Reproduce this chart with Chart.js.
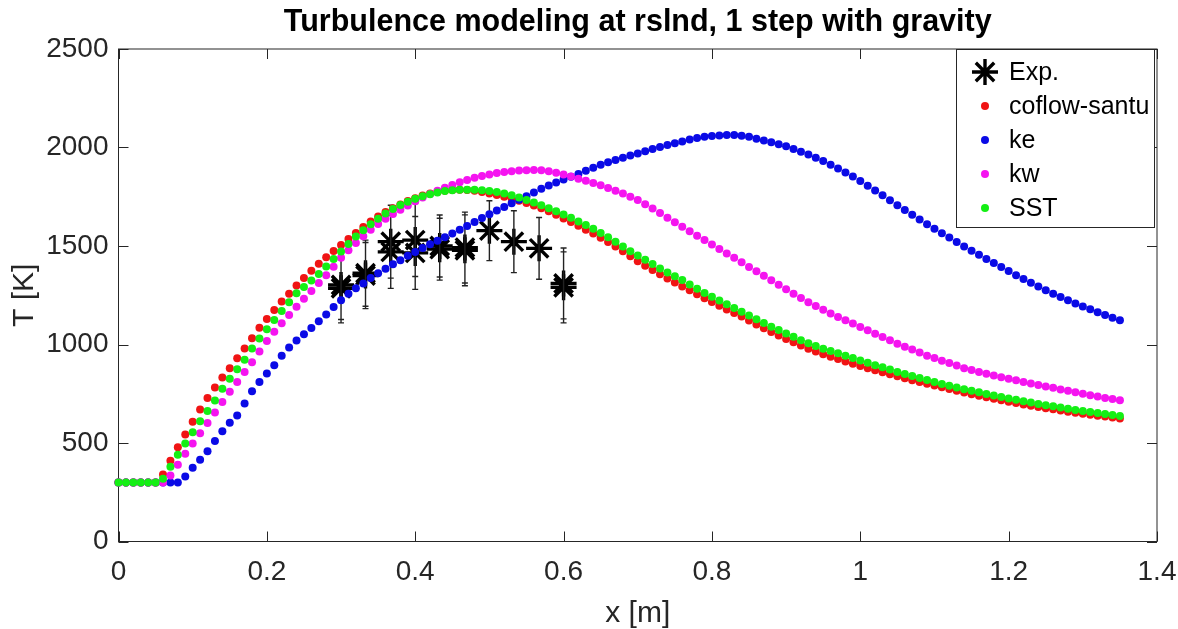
<!DOCTYPE html>
<html>
<head>
<meta charset="utf-8">
<script src="https://cdn.jsdelivr.net/npm/chart.js@4.4.0/dist/chart.umd.min.js"></script>
<style>
  html, body { margin: 0; padding: 0; background: #fff; }
  canvas { display: block; }
</style>
</head>
<body>
<canvas id="chart" width="1178" height="629"></canvas>
<script>
// x positions along the line [m], 0.00 .. 1.35
const xPos = [
  0.00, 0.01, 0.02, 0.03, 0.04, 0.05, 0.06, 0.07, 0.08, 0.09,
  0.10, 0.11, 0.12, 0.13, 0.14, 0.15, 0.16, 0.17, 0.18, 0.19,
  0.20, 0.21, 0.22, 0.23, 0.24, 0.25, 0.26, 0.27, 0.28, 0.29,
  0.30, 0.31, 0.32, 0.33, 0.34, 0.35, 0.36, 0.37, 0.38, 0.39,
  0.40, 0.41, 0.42, 0.43, 0.44, 0.45, 0.46, 0.47, 0.48, 0.49,
  0.50, 0.51, 0.52, 0.53, 0.54, 0.55, 0.56, 0.57, 0.58, 0.59,
  0.60, 0.61, 0.62, 0.63, 0.64, 0.65, 0.66, 0.67, 0.68, 0.69,
  0.70, 0.71, 0.72, 0.73, 0.74, 0.75, 0.76, 0.77, 0.78, 0.79,
  0.80, 0.81, 0.82, 0.83, 0.84, 0.85, 0.86, 0.87, 0.88, 0.89,
  0.90, 0.91, 0.92, 0.93, 0.94, 0.95, 0.96, 0.97, 0.98, 0.99,
  1.00, 1.01, 1.02, 1.03, 1.04, 1.05, 1.06, 1.07, 1.08, 1.09,
  1.10, 1.11, 1.12, 1.13, 1.14, 1.15, 1.16, 1.17, 1.18, 1.19,
  1.20, 1.21, 1.22, 1.23, 1.24, 1.25, 1.26, 1.27, 1.28, 1.29,
  1.30, 1.31, 1.32, 1.33, 1.34, 1.35
];

// temperature [K] per model, same x positions
const coflowSantu = [
  300, 300, 300, 300, 300, 300, 340, 410, 478, 543,
  608, 670, 728, 782, 832, 880, 930, 980, 1032, 1085,
  1130, 1175, 1218, 1258, 1300, 1338, 1375, 1410, 1443, 1475,
  1505, 1536, 1566, 1596, 1625, 1650, 1672, 1692, 1711, 1728,
  1743, 1756, 1766, 1774, 1780, 1784, 1785, 1784, 1780, 1774,
  1767, 1759, 1750, 1741, 1730, 1718, 1706, 1692, 1676, 1658,
  1640, 1622, 1603, 1583, 1563, 1542, 1520, 1497, 1473, 1448,
  1422, 1400, 1378, 1356, 1335, 1315, 1295, 1275, 1255, 1235,
  1216, 1197, 1178, 1160, 1142, 1122, 1102, 1083, 1064, 1046,
  1028, 1011, 995, 979, 965, 951, 938, 926, 914, 902,
  891, 880, 869, 859, 849, 839, 829, 819, 810, 801,
  792, 783, 774, 765, 756, 748, 740, 732, 724, 717,
  710, 703, 696, 689, 683, 677, 671, 665, 659, 654,
  648, 643, 638, 634, 629, 625
];
const ke = [
  300, 300, 300, 300, 300, 300, 300, 300, 300, 330,
  375, 415, 458, 510, 560, 603, 640, 700, 763, 810,
  853, 895, 943, 985, 1020, 1052, 1084, 1118, 1152, 1190,
  1225, 1258, 1285, 1310, 1338, 1362, 1385, 1407, 1428, 1450,
  1470, 1490, 1509, 1527, 1545, 1563, 1582, 1602, 1622, 1642,
  1661, 1680, 1698, 1717, 1735, 1753, 1772, 1790, 1807, 1822,
  1837, 1851, 1866, 1882, 1897, 1912, 1925, 1937, 1948, 1959,
  1970, 1981, 1992, 2003, 2013, 2022, 2031, 2040, 2048, 2054,
  2058, 2061, 2063, 2063, 2060, 2054, 2045, 2036, 2027, 2017,
  2006, 1993, 1979, 1964, 1948, 1931, 1913, 1893, 1873, 1853,
  1830, 1806, 1782, 1757, 1732, 1707, 1683, 1658, 1634, 1610,
  1587, 1565, 1543, 1520, 1497, 1476, 1455, 1434, 1414, 1394,
  1373, 1352, 1332, 1313, 1294, 1276, 1258, 1241, 1224, 1208,
  1193, 1179, 1164, 1150, 1136, 1123
];
const kw = [
  300, 300, 300, 300, 300, 300, 300, 335, 390, 445,
  498, 550, 602, 655, 708, 760, 810, 860, 910, 965,
  1018, 1065, 1108, 1150, 1192, 1232, 1272, 1312, 1352, 1395,
  1440, 1478, 1515, 1550, 1583, 1612, 1638, 1662, 1684, 1706,
  1727, 1746, 1764, 1781, 1796, 1810, 1823, 1835, 1846, 1855,
  1863, 1870, 1876, 1880, 1883, 1885, 1886, 1885, 1880, 1872,
  1863, 1853, 1842, 1831, 1820, 1808, 1795, 1781, 1766, 1750,
  1733, 1712, 1690, 1667, 1644, 1621, 1598, 1575, 1552, 1530,
  1507, 1485, 1462, 1440, 1417, 1394, 1372, 1349, 1326, 1303,
  1280, 1258, 1236, 1215, 1195, 1176, 1157, 1140, 1123, 1106,
  1089, 1072, 1055, 1038, 1021, 1004, 989, 974, 960, 943,
  932, 918, 906, 893, 880, 870, 861, 852, 843, 834,
  826, 818, 810, 802, 794, 787, 780, 772, 765, 757,
  750, 743, 736, 729, 723, 717
];
const sst = [
  300, 300, 300, 300, 300, 300, 318, 380, 440, 498,
  555, 610, 663, 716, 775, 826, 875, 922, 980, 1030,
  1078, 1124, 1170, 1215, 1260, 1292, 1325, 1358, 1396, 1434,
  1472, 1510, 1548, 1580, 1610, 1638, 1665, 1688, 1708, 1725,
  1740, 1752, 1763, 1772, 1779, 1783, 1785, 1786, 1785, 1783,
  1779, 1774, 1767, 1757, 1746, 1734, 1721, 1707, 1692, 1676,
  1660, 1643, 1625, 1606, 1587, 1566, 1544, 1521, 1497, 1473,
  1452, 1430, 1408, 1386, 1366, 1347, 1328, 1305, 1283, 1262,
  1242, 1223, 1204, 1185, 1166, 1147, 1128, 1109, 1090, 1073,
  1056, 1039, 1022, 1006, 992, 979, 967, 955, 943, 931,
  919, 907, 895, 884, 873, 860, 850, 840, 830, 820,
  810, 800, 791, 782, 773, 765, 757, 749, 741, 733,
  726, 719, 712, 705, 698, 692, 686, 680, 674, 668,
  662, 657, 652, 647, 642, 637
];

// experiment: position, temperature, error (+/-)
const expX   = [0.3, 0.3, 0.333, 0.333, 0.367, 0.367, 0.4, 0.4, 0.433, 0.433, 0.467, 0.467, 0.5, 0.533, 0.567, 0.6, 0.6];
const expT   = [1285, 1302, 1350, 1362, 1470, 1522, 1465, 1530, 1484, 1500, 1478, 1492, 1578, 1522, 1488, 1290, 1310];
const expErr = [175, 175, 168, 168, 185, 185, 185, 185, 157, 157, 180, 180, 152, 157, 157, 180, 180];

const xTickLabels = ['0', '0.2', '0.4', '0.6', '0.8', '1', '1.2', '1.4'];
const yTickLabels = ['0', '500', '1000', '1500', '2000', '2500'];

const seriesNames = ['Exp.', 'coflow-santu', 'ke', 'kw', 'SST'];
const seriesColors = ['#000000', '#f01414', '#0a0ae6', '#f514f0', '#14ef14'];

const FONT = "'Liberation Sans', Arial, Helvetica, sans-serif";
const AXIS_COLOR = '#262626';

function pts(ys) {
  return xPos.map((x, i) => ({x: x, y: ys[i]}));
}

function dotSet(idx, ys, order) {
  return {
    label: seriesNames[idx],
    data: pts(ys),
    showLine: false,
    pointRadius: 4,
    pointBorderWidth: 0,
    pointBackgroundColor: seriesColors[idx],
    pointBorderColor: seriesColors[idx],
    order: order,
    clip: false
  };
}

const data = {
  datasets: [
    {
      label: seriesNames[0],
      data: expX.map((x, i) => ({x: x, y: expT[i]})),
      showLine: false,
      pointStyle: 'star',
      pointRadius: 13,
      pointBorderWidth: 3.4,
      pointBorderColor: '#000',
      pointBackgroundColor: '#000',
      order: 5,
      clip: false
    },
    dotSet(1, coflowSantu, 4),
    dotSet(2, ke, 3),
    dotSet(3, kw, 2),
    dotSet(4, sst, 1)
  ]
};

// box around the axes with inward ticks on all four sides
const axesBox = {
  id: 'axesBox',
  beforeDatasetsDraw(chart) {
    const {ctx, chartArea: a, scales} = chart;
    ctx.save();
    ctx.strokeStyle = AXIS_COLOR;
    ctx.lineWidth = 1;
    ctx.strokeRect(a.left, a.top, a.right - a.left, a.bottom - a.top);
    ctx.beginPath();
    scales.x.ticks.forEach(t => {
      const px = Math.round(scales.x.getPixelForValue(t.value)) + 0.5;
      ctx.moveTo(px, a.bottom); ctx.lineTo(px, a.bottom - 10);
      ctx.moveTo(px, a.top); ctx.lineTo(px, a.top + 10);
    });
    scales.y.ticks.forEach(t => {
      const py = Math.round(scales.y.getPixelForValue(t.value)) + 0.5;
      ctx.moveTo(a.left, py); ctx.lineTo(a.left + 10, py);
      ctx.moveTo(a.right, py); ctx.lineTo(a.right - 10, py);
    });
    ctx.stroke();
    ctx.restore();
  }
};

// vertical error bars for the experiment
const errorBars = {
  id: 'errorBars',
  afterDatasetDraw(chart, args) {
    if (args.index !== 0) return;
    const {ctx, scales} = chart;
    ctx.save();
    ctx.strokeStyle = '#222';
    ctx.lineWidth = 1.4;
    ctx.beginPath();
    expX.forEach((x, i) => {
      const px = scales.x.getPixelForValue(x);
      const y1 = scales.y.getPixelForValue(expT[i] + expErr[i]);
      const y2 = scales.y.getPixelForValue(expT[i] - expErr[i]);
      ctx.moveTo(px, y1); ctx.lineTo(px, y2);
      ctx.moveTo(px - 3, y1); ctx.lineTo(px + 3, y1);
      ctx.moveTo(px - 3, y2); ctx.lineTo(px + 3, y2);
    });
    ctx.stroke();
    ctx.restore();
  }
};

// legend box in the upper right corner of the axes
const boxLegend = {
  id: 'boxLegend',
  afterDraw(chart) {
    const {ctx, chartArea: a} = chart;
    const w = 198, h = 178;
    const left = a.right - w - 3, top = a.top;
    ctx.save();
    ctx.fillStyle = '#fff';
    ctx.fillRect(left, top, w, h);
    ctx.strokeStyle = AXIS_COLOR;
    ctx.lineWidth = 1;
    ctx.strokeRect(Math.round(left) + 0.5, Math.round(top) + 0.5, w, h);
    ctx.font = '25px ' + FONT;
    ctx.textBaseline = 'middle';
    ctx.textAlign = 'left';
    seriesNames.forEach((name, i) => {
      const cy = top + 23 + i * 34;
      const mx = left + 29;
      if (i === 0) {
        ctx.strokeStyle = '#000';
        ctx.lineWidth = 3.4;
        ctx.beginPath();
        for (let k = 0; k < 4; k++) {
          const ang = k * Math.PI / 4;
          ctx.moveTo(mx - 13 * Math.sin(ang), cy - 13 * Math.cos(ang));
          ctx.lineTo(mx + 13 * Math.sin(ang), cy + 13 * Math.cos(ang));
        }
        ctx.stroke();
      } else {
        ctx.fillStyle = seriesColors[i];
        ctx.beginPath();
        ctx.arc(mx, cy, 4, 0, Math.PI * 2);
        ctx.fill();
      }
      ctx.fillStyle = '#000';
      ctx.fillText(name, left + 53, cy + 1);
    });
    ctx.restore();
  }
};

const config = {
  type: 'scatter',
  data,
  options: {
    responsive: false,
    animation: false,
    events: [],
    layout: {
      padding: {top: 0, right: 21, bottom: 0, left: 0}
    },
    plugins: {
      legend: {display: false},
      tooltip: {enabled: false},
      title: {
        display: true,
        text: 'Turbulence modeling at rslnd, 1 step with gravity',
        color: '#000',
        fullSize: false,
        font: {family: FONT, size: 30.5, weight: 'bold', lineHeight: 1.2},
        padding: {top: 4, bottom: 8.4}
      }
    },
    scales: {
      x: {
        type: 'linear',
        min: 0,
        max: 1.4,
        grid: {display: false, drawTicks: false},
        border: {display: false},
        ticks: {
          stepSize: 0.2,
          padding: 14,
          color: AXIS_COLOR,
          font: {family: FONT, size: 28},
          callback: (v, i) => xTickLabels[i]
        },
        title: {
          display: true,
          text: 'x [m]',
          color: AXIS_COLOR,
          font: {family: FONT, size: 30, lineHeight: 1},
          padding: {top: 0, bottom: 0}
        },
        afterFit(scale) {
          scale.height = 87.5;
          scale.paddingLeft = 0;
          scale.paddingRight = 0;
        }
      },
      y: {
        type: 'linear',
        min: 0,
        max: 2500,
        grid: {display: false, drawTicks: false},
        border: {display: false},
        ticks: {
          stepSize: 500,
          padding: 10,
          color: AXIS_COLOR,
          font: {family: FONT, size: 28},
          callback: (v, i) => yTickLabels[i]
        },
        title: {
          display: true,
          text: 'T [K]',
          color: AXIS_COLOR,
          font: {family: FONT, size: 30, lineHeight: 1},
          padding: {top: 10, bottom: 0}
        },
        afterFit(scale) {
          scale.width = 118.5;
          scale.paddingTop = 0;
          scale.paddingBottom = 0;
        }
      }
    }
  },
  plugins: [axesBox, errorBars, boxLegend]
};

var myChart = new Chart(document.getElementById('chart'), config);
</script>
</body>
</html>
